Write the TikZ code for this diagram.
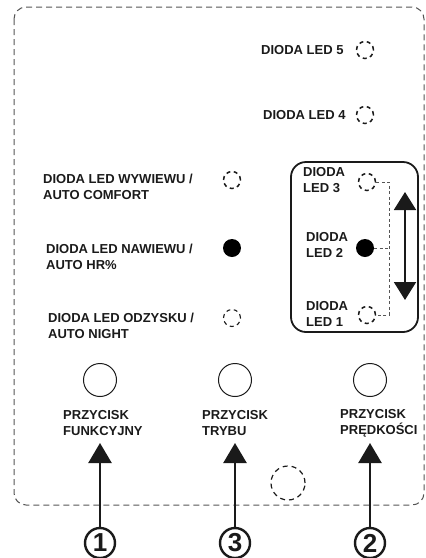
\documentclass[tikz,border=0pt]{standalone}
\usepackage{fontspec}
\setmainfont{Liberation Sans}
\usetikzlibrary{arrows.meta}
\definecolor{ink}{HTML}{1A1A1A}
\definecolor{frame}{HTML}{555555}
\begin{document}
\begin{tikzpicture}[x=1pt,y=-1pt,
  lbl/.style={anchor=west,align=left,font=\fontsize{13}{16}\selectfont\bfseries,text=ink,inner sep=0pt},
  ledoff/.style={circle,draw=ink,line width=1.5pt,dash pattern=on 4pt off 3.5pt,minimum size=17pt,inner sep=0pt},
  ledon/.style={circle,fill=black,minimum size=18pt,inner sep=0pt},
  button/.style={circle,draw=ink,line width=1pt,minimum size=33pt,inner sep=0pt},
  numc/.style={circle,draw=ink,line width=2.4pt,minimum size=30pt,inner sep=0pt,font=\fontsize{26}{26}\selectfont\bfseries,text=ink},
  bigarrow/.style={line width=2.4pt,draw=ink,-{Triangle[width=23pt,length=20pt]}},
  dblarrow/.style={line width=2pt,draw=ink,{Triangle[width=22pt,length=18pt]}-{Triangle[width=22pt,length=18pt]}},
  bracket/.style={draw=frame,line width=0.8pt,dash pattern=on 3pt off 2.5pt}]
\useasboundingbox (0,0) rectangle (426,558);
% outer dashed frame
\draw[frame,line width=1pt,dash pattern=on 6pt off 4pt,rounded corners=12pt] (14,7) rectangle (424,505);
% right box
\draw[ink,line width=1.8pt,rounded corners=15pt] (291,162) rectangle (418,332);
% top right LEDs
\node[ledoff] (l5) at (365,50) {};
\node[lbl] (t5) at (261,50) {DIODA LED 5};
\node[ledoff] (l4) at (365,115) {};
\node[lbl] (t4) at (263,115) {DIODA LED 4};
% left LEDs
\node[ledoff] (lw) at (232,180) {};
\node[lbl] (tw) at (43,187) {DIODA LED WYWIEWU /\\AUTO COMFORT};
\node[ledon] (ln) at (232,248) {};
\node[lbl] (tn) at (46,257) {DIODA LED NAWIEWU /\\AUTO HR\%};
\node[ledoff,line width=1.1pt] (lo) at (232,318) {};
\node[lbl] (to) at (48,326) {DIODA LED ODZYSKU /\\AUTO NIGHT};
% right box LEDs
\node[ledoff] (l3) at (367,182) {};
\node[lbl] (t3) at (303,180) {DIODA\\LED 3};
\node[ledon] (l2) at (365,248) {};
\node[lbl] (t2) at (306,245) {DIODA\\LED 2};
\node[ledoff] (l1) at (367,315) {};
\node[lbl] (t1) at (306,314) {DIODA\\LED 1};
\coordinate (b3) at (389,182);
\coordinate (b2) at (389,248);
\coordinate (b1) at (389,315);
\draw[bracket] (l3.east) -- (b3) -- (b1) -- (l1.east);
\draw[bracket] (l2.east) -- (b2);
\coordinate (atop) at (405,192);
\coordinate (abot) at (405,300);
\draw[dblarrow] (atop) -- (abot);
% buttons
\node[button] (p1) at (100,380) {};
\node[button] (p3) at (235,380) {};
\node[button] (p2) at (370,380) {};
\node[lbl] (pt1) at (63,423) {PRZYCISK\\FUNKCYJNY};
\node[lbl] (pt3) at (202,423) {PRZYCISK\\TRYBU};
\node[lbl] (pt2) at (340,423) {PRZYCISK\\PRĘDKOŚCI};
% small dashed circle
\node[circle,draw=ink,line width=1.2pt,dash pattern=on 5pt off 4pt,minimum size=34pt,inner sep=0pt] (sc) at (288,483) {};
% numbered circles and arrows
\node[numc] (n1) at (100,543) {1};
\node[numc] (n3) at (235,543) {3};
\node[numc] (n2) at (370,543) {2};
\coordinate (a1) at (100,443);
\coordinate (a3) at (235,443);
\coordinate (a2) at (370,443);
\draw[bigarrow] (n1.north) -- (a1);
\draw[bigarrow] (n3.north) -- (a3);
\draw[bigarrow] (n2.north) -- (a2);
\end{tikzpicture}
\end{document}
